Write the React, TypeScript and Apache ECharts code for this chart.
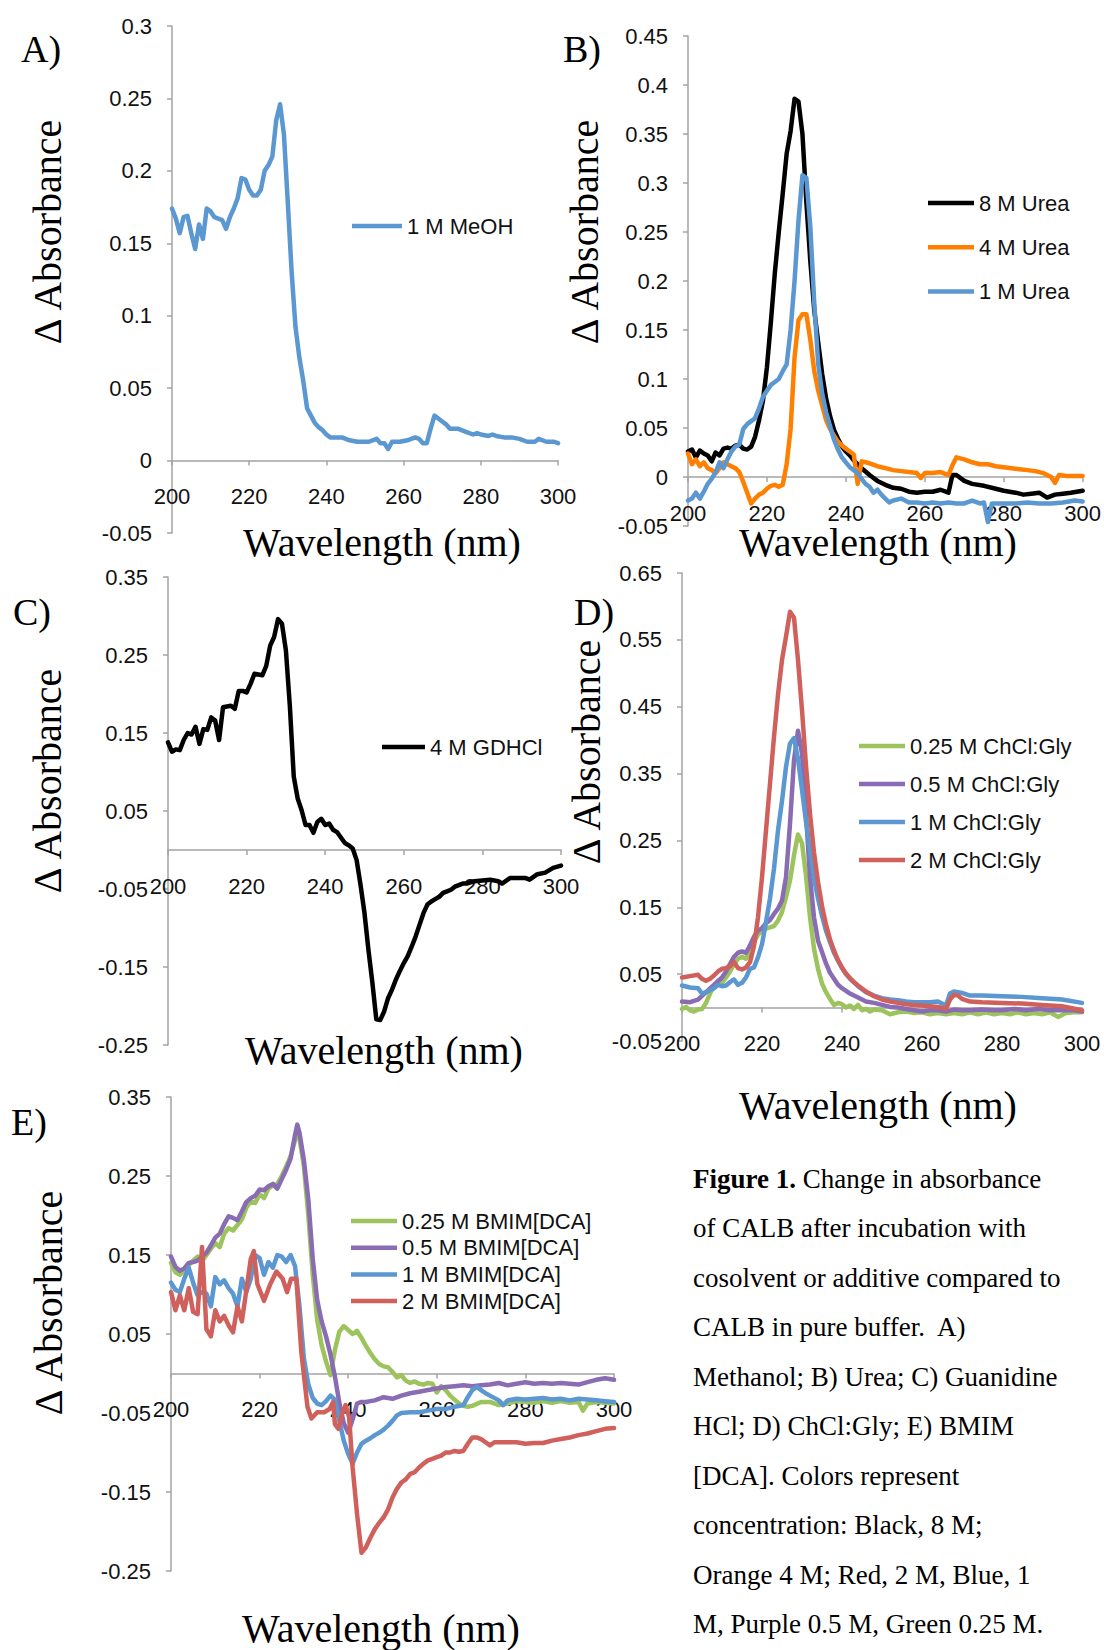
import React, { useEffect, useRef } from "react";
import * as echarts from "echarts";

type Pt = [number, number];

// ---------- tick labels ----------
const WAVELENGTH_TICKS = [200, 220, 240, 260, 280, 300];
const Y_TICKS_A = [-0.05, 0, 0.05, 0.1, 0.15, 0.2, 0.25, 0.3];
const Y_TICKS_B = [-0.05, 0, 0.05, 0.1, 0.15, 0.2, 0.25, 0.3, 0.35, 0.4, 0.45];
const Y_TICKS_C = [-0.25, -0.15, -0.05, 0.05, 0.15, 0.25, 0.35];
const Y_TICKS_D = [-0.05, 0.05, 0.15, 0.25, 0.35, 0.45, 0.55, 0.65];
const Y_TICKS_E = [-0.25, -0.15, -0.05, 0.05, 0.15, 0.25, 0.35];

// ---------- A) Methanol ----------
const meoh1M: Pt[] = [[200,0.174],[201,0.167],[202,0.157],[203,0.168],[204,0.169],[205,0.157],[206,0.146],[207,0.163],[208,0.153],[209,0.174],[210,0.172],[211,0.168],[212,0.167],[213,0.166],[214,0.160],[215,0.168],[216,0.174],[217,0.181],[218,0.195],[219,0.194],[220,0.187],[221,0.183],[222,0.183],[223,0.187],[224,0.200],[225,0.204],[226,0.210],[227,0.235],[228,0.246],[229,0.225],[230,0.178],[231,0.130],[232,0.092],[233,0.071],[234,0.055],[235,0.036],[236,0.031],[237,0.026],[238,0.023],[239,0.021],[240,0.018],[241,0.016],[242,0.016],[244,0.016],[246,0.014],[248,0.013],[250,0.013],[251,0.013],[253,0.015],[254,0.012],[255,0.012],[256,0.008],[257,0.013],[259,0.013],[261,0.014],[263,0.016],[264,0.015],[265,0.012],[266,0.012],[267,0.022],[268,0.031],[269,0.029],[270,0.027],[271,0.025],[272,0.022],[274,0.022],[275,0.021],[276,0.020],[278,0.018],[279,0.019],[280,0.018],[282,0.017],[283,0.018],[284,0.017],[286,0.016],[288,0.016],[290,0.015],[292,0.013],[294,0.013],[295,0.015],[297,0.013],[299,0.013],[300,0.012]];

// ---------- B) Urea ----------
const urea8M: Pt[] = [[200,0.026],[201,0.028],[202,0.020],[203,0.027],[204,0.024],[205,0.022],[206,0.016],[207,0.025],[208,0.022],[209,0.029],[210,0.030],[211,0.029],[212,0.032],[213,0.033],[214,0.029],[215,0.028],[216,0.031],[217,0.041],[218,0.058],[219,0.078],[220,0.112],[221,0.158],[222,0.208],[223,0.250],[224,0.289],[225,0.330],[226,0.353],[227,0.386],[228,0.383],[229,0.350],[230,0.280],[231,0.220],[232,0.170],[233,0.137],[234,0.105],[235,0.080],[236,0.062],[237,0.048],[238,0.039],[239,0.031],[240,0.026],[241,0.022],[242,0.017],[243,0.013],[244,0.009],[246,0.002],[248,-0.004],[250,-0.008],[252,-0.011],[254,-0.012],[256,-0.015],[258,-0.016],[260,-0.015],[262,-0.015],[264,-0.013],[266,-0.016],[267,0.002],[268,0.002],[270,-0.004],[272,-0.007],[275,-0.009],[278,-0.012],[280,-0.014],[283,-0.016],[285,-0.018],[287,-0.017],[289,-0.016],[291,-0.021],[293,-0.018],[295,-0.017],[297,-0.016],[300,-0.014]];
const urea4M: Pt[] = [[200,0.024],[201,0.013],[202,0.018],[203,0.011],[204,0.015],[205,0.009],[206,0.007],[207,0.004],[208,0.009],[209,0.015],[210,0.013],[211,0.011],[212,0.009],[213,0.005],[214,-0.005],[215,-0.016],[216,-0.027],[217,-0.022],[218,-0.018],[219,-0.016],[220,-0.012],[221,-0.009],[222,-0.008],[223,-0.010],[224,-0.008],[225,0.013],[226,0.049],[227,0.122],[228,0.160],[229,0.166],[230,0.166],[231,0.140],[232,0.108],[233,0.088],[234,0.073],[235,0.058],[236,0.049],[237,0.042],[238,0.036],[239,0.032],[240,0.029],[241,0.026],[242,0.023],[243,-0.007],[244,0.016],[245,0.015],[246,0.014],[248,0.011],[250,0.009],[252,0.007],[254,0.006],[256,0.005],[258,0.004],[259,-0.001],[260,0.004],[262,0.004],[264,0.005],[266,0.002],[267,0.012],[268,0.020],[270,0.018],[272,0.015],[274,0.013],[276,0.013],[278,0.011],[280,0.010],[282,0.009],[284,0.008],[286,0.007],[288,0.006],[290,0.004],[292,0.000],[293,-0.006],[294,0.002],[296,0.001],[298,0.001],[300,0.001]];
const urea1M: Pt[] = [[200,-0.024],[201,-0.022],[202,-0.016],[203,-0.022],[204,-0.015],[205,-0.007],[206,-0.002],[207,0.005],[208,0.015],[209,0.009],[210,0.018],[211,0.026],[212,0.031],[213,0.033],[214,0.049],[215,0.054],[216,0.057],[217,0.060],[218,0.070],[219,0.082],[220,0.088],[221,0.094],[222,0.097],[223,0.100],[224,0.108],[225,0.115],[226,0.150],[227,0.200],[228,0.262],[229,0.308],[230,0.305],[231,0.255],[232,0.177],[233,0.115],[234,0.085],[235,0.066],[236,0.052],[237,0.038],[238,0.028],[239,0.020],[240,0.015],[241,0.010],[242,0.007],[243,0.004],[244,-0.002],[245,-0.007],[246,-0.010],[247,-0.016],[248,-0.013],[249,-0.018],[250,-0.022],[251,-0.026],[252,-0.024],[254,-0.022],[256,-0.026],[258,-0.026],[260,-0.027],[262,-0.026],[264,-0.027],[266,-0.026],[268,-0.027],[270,-0.027],[272,-0.024],[274,-0.027],[275,-0.026],[276,-0.046],[277,-0.027],[280,-0.027],[283,-0.027],[286,-0.026],[289,-0.027],[292,-0.027],[295,-0.026],[298,-0.024],[300,-0.025]];

// ---------- C) Guanidine HCl ----------
const gdhcl4M: Pt[] = [[200,0.138],[201,0.126],[202,0.129],[203,0.128],[204,0.141],[205,0.150],[206,0.148],[207,0.158],[208,0.136],[209,0.155],[210,0.154],[211,0.170],[212,0.166],[213,0.141],[214,0.183],[215,0.184],[216,0.185],[217,0.181],[218,0.204],[219,0.204],[220,0.202],[221,0.213],[222,0.226],[223,0.225],[224,0.224],[225,0.236],[226,0.262],[227,0.273],[228,0.296],[229,0.290],[230,0.256],[231,0.185],[232,0.094],[233,0.066],[234,0.051],[235,0.032],[236,0.032],[237,0.022],[238,0.036],[239,0.040],[240,0.032],[241,0.034],[242,0.026],[243,0.023],[244,0.016],[245,0.009],[246,0.006],[247,0.002],[248,-0.013],[249,-0.045],[250,-0.081],[251,-0.128],[252,-0.170],[253,-0.217],[254,-0.218],[255,-0.207],[256,-0.190],[257,-0.179],[258,-0.166],[259,-0.155],[260,-0.145],[261,-0.136],[262,-0.124],[263,-0.111],[264,-0.096],[265,-0.081],[266,-0.070],[267,-0.066],[268,-0.063],[269,-0.060],[270,-0.055],[271,-0.053],[272,-0.051],[273,-0.047],[274,-0.045],[275,-0.043],[276,-0.043],[278,-0.040],[280,-0.039],[282,-0.038],[284,-0.040],[285,-0.043],[287,-0.036],[289,-0.036],[291,-0.036],[292,-0.038],[294,-0.031],[296,-0.029],[298,-0.023],[300,-0.020]];

// ---------- D) ChCl:Gly ----------
const chcl025: Pt[] = [[200,-0.002],[201,0.001],[202,-0.004],[203,-0.006],[204,-0.003],[205,-0.002],[206,0.007],[207,0.021],[208,0.032],[209,0.040],[210,0.037],[211,0.045],[212,0.054],[213,0.065],[214,0.073],[215,0.076],[216,0.073],[217,0.084],[218,0.098],[219,0.109],[220,0.115],[221,0.118],[222,0.120],[223,0.122],[224,0.130],[225,0.143],[226,0.165],[227,0.190],[228,0.228],[229,0.259],[230,0.246],[231,0.198],[232,0.135],[233,0.088],[234,0.058],[235,0.036],[236,0.023],[237,0.013],[238,0.004],[239,0.007],[240,0.005],[241,0.000],[242,0.003],[243,-0.002],[244,0.004],[245,-0.004],[246,-0.002],[247,-0.006],[248,-0.003],[250,-0.004],[252,-0.010],[254,-0.007],[256,-0.006],[258,-0.008],[260,-0.007],[262,-0.010],[264,-0.008],[266,-0.010],[268,-0.008],[270,-0.010],[272,-0.007],[274,-0.010],[276,-0.007],[278,-0.010],[280,-0.008],[282,-0.010],[284,-0.007],[286,-0.010],[288,-0.008],[290,-0.010],[292,-0.007],[294,-0.014],[296,-0.008],[298,-0.007],[300,-0.007]];
const chcl05: Pt[] = [[200,0.009],[202,0.008],[204,0.012],[206,0.023],[208,0.034],[210,0.045],[211,0.054],[212,0.065],[213,0.076],[214,0.082],[215,0.084],[216,0.082],[217,0.093],[218,0.106],[219,0.115],[220,0.119],[221,0.126],[222,0.131],[223,0.140],[224,0.148],[225,0.160],[226,0.195],[227,0.275],[228,0.370],[229,0.414],[230,0.380],[231,0.290],[232,0.195],[233,0.135],[234,0.100],[235,0.083],[236,0.066],[237,0.052],[238,0.043],[239,0.034],[240,0.029],[242,0.021],[244,0.015],[246,0.009],[248,0.007],[250,0.004],[252,0.001],[254,0.000],[256,-0.002],[258,-0.004],[260,-0.006],[262,-0.004],[264,-0.004],[266,-0.006],[268,-0.003],[270,-0.004],[272,-0.004],[275,-0.003],[278,-0.004],[280,-0.004],[283,-0.002],[286,-0.004],[289,-0.002],[292,-0.004],[295,-0.004],[298,-0.004],[300,-0.006]];
const chcl1M: Pt[] = [[200,0.033],[202,0.030],[204,0.029],[205,0.021],[206,0.023],[208,0.029],[209,0.034],[210,0.032],[211,0.033],[212,0.038],[213,0.042],[214,0.034],[215,0.037],[216,0.045],[217,0.058],[218,0.060],[219,0.075],[220,0.095],[221,0.128],[222,0.163],[223,0.208],[224,0.265],[225,0.309],[226,0.360],[227,0.395],[228,0.403],[229,0.372],[230,0.326],[231,0.278],[232,0.235],[233,0.193],[234,0.163],[235,0.137],[236,0.115],[237,0.098],[238,0.082],[239,0.070],[240,0.059],[241,0.050],[242,0.043],[244,0.032],[246,0.023],[248,0.018],[250,0.014],[252,0.012],[254,0.011],[256,0.009],[258,0.008],[260,0.008],[262,0.008],[264,0.009],[266,0.003],[267,0.021],[268,0.024],[270,0.022],[272,0.018],[275,0.018],[280,0.017],[285,0.016],[290,0.014],[295,0.012],[300,0.007]];
const chcl2M: Pt[] = [[200,0.045],[202,0.047],[204,0.049],[205,0.043],[206,0.040],[207,0.043],[208,0.048],[209,0.054],[210,0.058],[211,0.059],[212,0.062],[213,0.068],[214,0.059],[215,0.057],[216,0.060],[217,0.068],[218,0.092],[219,0.135],[220,0.195],[221,0.265],[222,0.335],[223,0.405],[224,0.468],[225,0.520],[226,0.555],[227,0.592],[228,0.583],[229,0.520],[230,0.445],[231,0.362],[232,0.290],[233,0.232],[234,0.188],[235,0.152],[236,0.124],[237,0.102],[238,0.085],[239,0.071],[240,0.060],[241,0.051],[242,0.044],[243,0.038],[244,0.033],[246,0.024],[248,0.017],[250,0.012],[252,0.009],[254,0.007],[256,0.005],[258,0.004],[260,0.003],[262,0.002],[264,0.001],[266,-0.002],[267,0.012],[268,0.019],[269,0.018],[270,0.013],[272,0.009],[275,0.008],[280,0.007],[285,0.006],[290,0.004],[295,0.002],[300,-0.004]];

// ---------- E) BMIM[DCA] ----------
const bmim025: Pt[] = [[200,0.140],[201,0.128],[202,0.125],[203,0.130],[204,0.137],[205,0.143],[206,0.148],[207,0.142],[208,0.150],[209,0.158],[210,0.165],[211,0.160],[212,0.177],[213,0.184],[214,0.181],[215,0.188],[216,0.195],[217,0.210],[218,0.218],[219,0.216],[220,0.227],[221,0.222],[222,0.234],[223,0.238],[224,0.240],[225,0.250],[226,0.262],[227,0.275],[228,0.295],[228.5,0.303],[229,0.298],[230,0.262],[231,0.200],[232,0.125],[233,0.068],[234,0.036],[235,0.015],[236,-0.002],[237,0.030],[238,0.053],[239,0.060],[240,0.055],[241,0.050],[242,0.054],[243,0.045],[244,0.035],[245,0.026],[246,0.018],[247,0.012],[248,0.009],[249,0.008],[250,0.002],[251,-0.005],[252,-0.002],[253,-0.009],[254,-0.012],[255,-0.010],[256,-0.013],[257,-0.014],[258,-0.012],[259,-0.013],[260,-0.024],[261,-0.016],[262,-0.021],[263,-0.028],[264,-0.033],[265,-0.038],[266,-0.041],[267,-0.042],[268,-0.041],[270,-0.036],[272,-0.036],[274,-0.040],[276,-0.038],[278,-0.035],[280,-0.036],[282,-0.037],[284,-0.035],[286,-0.037],[288,-0.035],[290,-0.037],[292,-0.036],[293,-0.047],[294,-0.038],[296,-0.036],[298,-0.037],[300,-0.038]];
const bmim05: Pt[] = [[200,0.148],[201,0.135],[202,0.130],[203,0.133],[204,0.140],[205,0.141],[206,0.143],[207,0.148],[208,0.153],[209,0.162],[210,0.172],[211,0.177],[212,0.189],[213,0.199],[214,0.197],[215,0.194],[216,0.205],[217,0.217],[218,0.222],[219,0.225],[220,0.233],[221,0.232],[222,0.237],[223,0.240],[224,0.234],[225,0.246],[226,0.258],[227,0.272],[228,0.302],[228.5,0.315],[229,0.305],[230,0.270],[231,0.220],[232,0.145],[233,0.093],[234,0.066],[235,0.047],[236,0.024],[237,-0.004],[238,-0.037],[239,-0.063],[240,-0.075],[241,-0.058],[242,-0.038],[243,-0.036],[244,-0.036],[245,-0.035],[246,-0.034],[248,-0.030],[250,-0.032],[252,-0.028],[254,-0.025],[256,-0.023],[258,-0.021],[260,-0.019],[262,-0.017],[264,-0.016],[266,-0.015],[268,-0.016],[270,-0.015],[272,-0.014],[274,-0.012],[276,-0.015],[278,-0.013],[280,-0.011],[282,-0.013],[284,-0.012],[286,-0.013],[288,-0.012],[290,-0.013],[292,-0.014],[294,-0.011],[296,-0.008],[298,-0.006],[300,-0.008]];
const bmim1M: Pt[] = [[200,0.115],[201,0.106],[202,0.103],[203,0.120],[204,0.134],[205,0.115],[206,0.099],[207,0.103],[208,0.101],[209,0.085],[210,0.122],[211,0.113],[212,0.118],[213,0.108],[214,0.101],[215,0.085],[216,0.120],[217,0.103],[218,0.120],[219,0.150],[220,0.146],[221,0.125],[222,0.141],[223,0.134],[224,0.150],[225,0.148],[226,0.141],[227,0.150],[228,0.136],[229,0.085],[230,0.019],[231,-0.014],[232,-0.031],[233,-0.038],[234,-0.040],[235,-0.035],[236,-0.028],[237,-0.033],[238,-0.060],[239,-0.085],[240,-0.102],[241,-0.114],[242,-0.100],[243,-0.089],[244,-0.085],[245,-0.082],[246,-0.078],[247,-0.075],[248,-0.071],[249,-0.066],[250,-0.060],[251,-0.053],[252,-0.050],[254,-0.049],[256,-0.049],[258,-0.047],[260,-0.045],[262,-0.045],[264,-0.042],[266,-0.040],[267,-0.030],[268,-0.021],[269,-0.017],[270,-0.021],[271,-0.025],[272,-0.028],[274,-0.034],[275,-0.040],[276,-0.034],[278,-0.032],[280,-0.033],[282,-0.032],[284,-0.031],[286,-0.033],[288,-0.032],[290,-0.034],[292,-0.032],[294,-0.033],[296,-0.034],[298,-0.035],[300,-0.036]];
const bmim2M: Pt[] = [[200,0.103],[201,0.080],[202,0.099],[203,0.080],[204,0.108],[205,0.078],[206,0.075],[207,0.160],[208,0.056],[209,0.047],[210,0.080],[211,0.066],[212,0.073],[213,0.061],[214,0.052],[215,0.085],[216,0.066],[217,0.105],[218,0.145],[218.7,0.155],[219.5,0.113],[221,0.092],[222.4,0.113],[223.8,0.129],[225.2,0.120],[226.2,0.103],[227.1,0.120],[228.3,0.120],[229.4,0.028],[230.8,-0.042],[231.7,-0.057],[233,-0.049],[234.6,-0.049],[235.8,-0.045],[236.6,-0.036],[237,-0.064],[237.8,-0.070],[238.6,-0.051],[239.4,-0.040],[240.2,-0.055],[241,-0.119],[242,-0.178],[243,-0.227],[244,-0.220],[245,-0.208],[246,-0.197],[247,-0.189],[248,-0.182],[249,-0.172],[250,-0.157],[251,-0.146],[252,-0.138],[253,-0.134],[254,-0.127],[255,-0.125],[256,-0.119],[257,-0.114],[258,-0.110],[259,-0.108],[260,-0.106],[261,-0.104],[262,-0.100],[263,-0.100],[264,-0.098],[265,-0.099],[266,-0.098],[267,-0.089],[268,-0.081],[269,-0.081],[270,-0.083],[271,-0.087],[272,-0.091],[273,-0.087],[274,-0.087],[276,-0.087],[278,-0.087],[280,-0.089],[282,-0.088],[284,-0.088],[286,-0.085],[288,-0.083],[290,-0.081],[292,-0.078],[294,-0.076],[296,-0.073],[298,-0.070],[300,-0.069]];

const CAPTION_LINES = [
  "{b|Figure 1.} Change in absorbance",
  "of CALB after incubation with",
  "cosolvent or additive compared to",
  "CALB in pure buffer.  A)",
  "Methanol; B) Urea; C) Guanidine",
  "HCl; D) ChCl:Gly; E) BMIM",
  "[DCA]. Colors represent",
  "concentration: Black, 8 M;",
  "Orange 4 M; Red, 2 M, Blue, 1",
  "M, Purple 0.5 M, Green 0.25 M.",
];

// ---------- styles & layout ----------
const BLUE = "#5b97d1";
const ORANGE = "#ff8000";
const RED = "#d0605c";
const GREEN = "#9dc35c";
const PURPLE = "#8a6cb3";
const BLACK = "#000000";
const AXIS_COLOR = "#a3a3a3";
const SANS = "'Liberation Sans', Arial, sans-serif";
const SERIF = "'Liberation Serif', 'Times New Roman', serif";

const PANELS = [
  { left: 172, top: 26, right: 558, bottom: 533, yTicks: Y_TICKS_A, letter: "A)", lx: 21, ly: 49, xt: [382, 542], yt: [47, 232], leg: { x: 352, y0: 226, dy: 0, w: 50 } },
  { left: 688, top: 36, right: 1083, bottom: 526, yTicks: Y_TICKS_B, letter: "B)", lx: 563, ly: 49, xt: [878, 542], yt: [584, 232], leg: { x: 928, y0: 203, dy: 44.3, w: 46 } },
  { left: 168, top: 577, right: 561, bottom: 1045, yTicks: Y_TICKS_C, letter: "C)", lx: 13, ly: 612, xt: [384, 1050], yt: [47, 781], leg: { x: 382, y0: 747, dy: 0, w: 43 } },
  { left: 682, top: 573, right: 1082, bottom: 1041, yTicks: Y_TICKS_D, letter: "D)", lx: 574, ly: 612, xt: [878, 1105], yt: [586, 752], leg: { x: 859, y0: 746, dy: 38, w: 46 } },
  { left: 171, top: 1097, right: 614, bottom: 1571, yTicks: Y_TICKS_E, letter: "E)", lx: 11, ly: 1122, xt: [381, 1628], yt: [48, 1303], leg: { x: 351, y0: 1221, dy: 26.7, w: 46 } },
];

const SERIES = [
  { name: "1 M MeOH", data: meoh1M, color: BLUE, panel: 0, row: 0 },
  { name: "8 M Urea", data: urea8M, color: BLACK, panel: 1, row: 0 },
  { name: "4 M Urea", data: urea4M, color: ORANGE, panel: 1, row: 1 },
  { name: "1 M Urea", data: urea1M, color: BLUE, panel: 1, row: 2 },
  { name: "4 M GDHCl", data: gdhcl4M, color: BLACK, panel: 2, row: 0 },
  { name: "0.25 M ChCl:Gly", data: chcl025, color: GREEN, panel: 3, row: 0 },
  { name: "0.5 M ChCl:Gly", data: chcl05, color: PURPLE, panel: 3, row: 1 },
  { name: "1 M ChCl:Gly", data: chcl1M, color: BLUE, panel: 3, row: 2 },
  { name: "2 M ChCl:Gly", data: chcl2M, color: RED, panel: 3, row: 3 },
  { name: "0.25 M BMIM[DCA]", data: bmim025, color: GREEN, panel: 4, row: 0 },
  { name: "0.5 M BMIM[DCA]", data: bmim05, color: PURPLE, panel: 4, row: 1 },
  { name: "1 M BMIM[DCA]", data: bmim1M, color: BLUE, panel: 4, row: 2 },
  { name: "2 M BMIM[DCA]", data: bmim2M, color: RED, panel: 4, row: 3 },
];

function buildOption(): any {
  const axisLineStyle = { color: AXIS_COLOR, width: 1.5 };
  const grid = PANELS.map((p) => ({
    left: p.left,
    top: p.top,
    width: p.right - p.left,
    height: p.bottom - p.top,
    containLabel: false,
  }));
  const xAxis = PANELS.map((p, i) => {
    const yMin = p.yTicks[0];
    const yMax = p.yTicks[p.yTicks.length - 1];
    const h = p.bottom - p.top;
    // put the whole x axis (line, ticks, labels) on the y = 0 line
    const zeroFromBottom = ((0 - yMin) / (yMax - yMin)) * h;
    return {
      type: "value",
      gridIndex: i,
      position: "bottom",
      offset: -zeroFromBottom,
      min: WAVELENGTH_TICKS[0],
      max: WAVELENGTH_TICKS[WAVELENGTH_TICKS.length - 1],
      interval: WAVELENGTH_TICKS[1] - WAVELENGTH_TICKS[0],
      axisLine: { show: true, onZero: false, lineStyle: axisLineStyle },
      axisTick: { show: true, length: 5, inside: false, lineStyle: axisLineStyle },
      axisLabel: { show: true, margin: 25, fontSize: 22, color: "#111", fontFamily: SANS, showMinLabel: true, showMaxLabel: true },
      splitLine: { show: false },
    };
  });
  const yAxis = PANELS.map((p, i) => ({
    type: "value",
    gridIndex: i,
    min: p.yTicks[0],
    max: p.yTicks[p.yTicks.length - 1],
    axisLine: { show: true, onZero: false, lineStyle: axisLineStyle },
    axisTick: { show: true, length: 5, inside: false, customValues: p.yTicks, lineStyle: axisLineStyle },
    axisLabel: {
      show: true,
      margin: 20,
      fontSize: 22,
      color: "#111",
      fontFamily: SANS,
      customValues: p.yTicks,
      formatter: (v: number) => String(Math.round(v * 1000) / 1000),
    },
    splitLine: { show: false },
  }));
  const series = SERIES.map((s) => ({
    name: s.name,
    type: "line",
    xAxisIndex: s.panel,
    yAxisIndex: s.panel,
    data: s.data,
    showSymbol: false,
    symbol: "none",
    color: s.color,
    itemStyle: { color: s.color },
    lineStyle: { color: s.color, width: 4.5, join: "round", cap: "round" },
    emphasis: { disabled: true },
    silent: true,
  }));
  const legend = SERIES.map((s) => {
    const L = PANELS[s.panel].leg;
    return {
      show: true,
      left: L.x,
      top: L.y0 + s.row * L.dy - 11,
      padding: 0,
      itemGap: 0,
      itemWidth: L.w,
      itemHeight: 4.5,
      icon: "rect",
      selectedMode: false,
      data: [s.name],
      textStyle: { fontSize: 22, lineHeight: 22, color: "#111", fontFamily: SANS },
    };
  });
  const graphic: any[] = [];
  PANELS.forEach((p) => {
    graphic.push({
      type: "text",
      x: p.lx,
      y: p.ly,
      style: { text: p.letter, font: `38px ${SERIF}`, fill: "#000", textAlign: "left", textVerticalAlign: "middle", align: "left", verticalAlign: "middle" },
    });
    graphic.push({
      type: "text",
      x: p.xt[0],
      y: p.xt[1],
      style: { text: "Wavelength (nm)", font: `40px ${SERIF}`, fill: "#000", textAlign: "center", textVerticalAlign: "middle", align: "center", verticalAlign: "middle" },
    });
    graphic.push({
      type: "text",
      x: p.yt[0],
      y: p.yt[1],
      rotation: Math.PI / 2,
      style: { text: "Δ Absorbance", font: `40px ${SERIF}`, fill: "#000", textAlign: "center", textVerticalAlign: "middle", align: "center", verticalAlign: "middle" },
    });
  });
  CAPTION_LINES.forEach((line, i) => {
    graphic.push({
      type: "text",
      x: 693,
      y: 1178.5 + i * 49.5,
      style: {
        text: line,
        font: `27px ${SERIF}`,
        fill: "#000",
        textAlign: "left",
        textVerticalAlign: "middle",
        align: "left",
        verticalAlign: "middle",
        rich: { b: { fontWeight: "bold", fontSize: 27, fontFamily: SERIF, fill: "#000", color: "#000" } },
      },
    });
  });
  return {
    animation: false,
    backgroundColor: "#ffffff",
    textStyle: { fontFamily: SANS },
    grid,
    xAxis,
    yAxis,
    series,
    legend,
    graphic,
  };
}

export default function App() {
  const ref = useRef<HTMLDivElement>(null);
  useEffect(() => {
    if (!ref.current) return;
    const chart = echarts.init(ref.current, undefined, { renderer: "svg", width: 1104, height: 1650 });
    chart.setOption(buildOption());
    return () => {
      chart.dispose();
    };
  }, []);
  return (
    <div
      ref={ref}
      style={{ position: "absolute", left: 0, top: 0, width: 1104, height: 1650, background: "#fff" }}
    />
  );
}
